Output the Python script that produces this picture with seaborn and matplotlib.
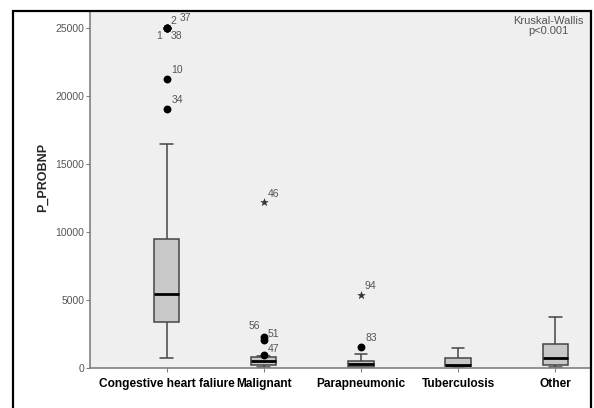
import numpy as np
import pandas as pd
import matplotlib
matplotlib.use("Agg")
import matplotlib.pyplot as plt
import matplotlib.patches as patches
import seaborn as sns

# five-number summaries (whisker low, Q1, median, Q3, whisker high)
categories = ["Congestive heart faliure", "Malignant", "Parapneumonic", "Tuberculosis", "Other"]
chf_summary = [760, 3390, 5430, 9490, 16490]
malignant_summary = [40, 220, 480, 780, 920]
parapneumonic_summary = [20, 50, 330, 520, 1030]
tuberculosis_summary = [20, 150, 220, 710, 1450]
other_summary = [100, 220, 710, 1740, 3740]

# outliers (circles) and extremes (stars)
outlier_group = ["Congestive heart faliure"] * 6 + ["Malignant"] * 3 + ["Parapneumonic"]
outlier_value = [25000, 25000, 25000, 25000, 21300, 19050, 2250, 2060, 940, 1570]
outlier_label = ["1", "2", "37", "38", "10", "34", "56", "51", "47", "83"]
extreme_group = ["Malignant", "Parapneumonic"]
extreme_value = [12190, 5380]
extreme_label = ["46", "94"]

# label offsets in pixels (dx right, dy down)
label_offset = {"1": (-7, 8), "2": (7, -7), "37": (19, -10), "38": (10, 8),
                "10": (11, -9), "34": (11, -9), "56": (-9, -11), "51": (10, -6),
                "47": (10, -6), "83": (10, -9), "46": (10, -8), "94": (9, -9)}

summaries = [chf_summary, malignant_summary, parapneumonic_summary,
             tuberculosis_summary, other_summary]
box_df = pd.DataFrame({
    "group": np.repeat(categories, 5),
    "value": np.concatenate(summaries),
})
out_df = pd.DataFrame({"pos": [categories.index(g) for g in outlier_group],
                       "value": outlier_value, "label": outlier_label})
ext_df = pd.DataFrame({"pos": [categories.index(g) for g in extreme_group],
                       "value": extreme_value, "label": extreme_label})

sns.set_style("white")
plt.rcParams["font.family"] = ["Liberation Sans", "DejaVu Sans"]

W, H = 594, 408
fig = plt.figure(figsize=(W / 100, H / 100), dpi=100)
ax = fig.add_axes([90 / W, 1 - 368 / H, (591 - 90) / W, (368 - 12) / H])
ax.set_facecolor("#efefef")

sns.boxplot(data=box_df, x="group", y="value", order=categories, whis=np.inf,
            width=0.26, color="#c8c8c8", saturation=1, linecolor="#454545",
            linewidth=1.1, fliersize=0, ax=ax,
            medianprops={"color": "black", "linewidth": 2})

sns.scatterplot(data=out_df, x="pos", y="value", marker="o", s=32,
                color="black", edgecolor="black", linewidth=0, ax=ax, zorder=5)
sns.scatterplot(data=ext_df, x="pos", y="value", marker="*", s=32,
                color="#333333", edgecolor="#333333", linewidth=0.3, ax=ax, zorder=5)

for df in (out_df, ext_df):
    for _, r in df.iterrows():
        dx, dy = label_offset[r["label"]]
        ax.annotate(r["label"], (r["pos"], r["value"]),
                    xytext=(dx * 0.72, -dy * 0.72), textcoords="offset points",
                    ha="center", va="center", fontsize=7.5, color="#555555")

ax.set_xlim(-0.787, 4.367)
ax.set_ylim(0, 26215)
ax.set_yticks([0, 5000, 10000, 15000, 20000, 25000])
ax.set_xlabel("")
ax.set_ylabel("P_PROBNP", fontsize=9, fontweight="bold")
ax.yaxis.set_label_coords(-0.082, 0.534)
ax.tick_params(axis="y", length=3, width=0.8, color="#808080",
               labelsize=7.5, labelcolor="#555555", pad=1, left=True)
ax.tick_params(axis="x", length=3, width=0.8, color="#808080",
               labelsize=8.6, labelcolor="black", pad=4, bottom=True)
for lab in ax.get_xticklabels():
    lab.set_fontweight("bold")

for side in ("top", "right"):
    ax.spines[side].set_visible(False)
for side in ("left", "bottom"):
    ax.spines[side].set_color("#808080")
    ax.spines[side].set_linewidth(1.2)

ax.text(0.915, 0.99, "Kruskal-Wallis\np<0.001", transform=ax.transAxes,
        ha="center", va="top", fontsize=8, color="#555555", linespacing=1.05)

# black frame around the figure
fig.patches.append(patches.Rectangle((13 / W, -0.05), (591 - 13) / W, 1.05 - 11 / H,
                                     transform=fig.transFigure, fill=False,
                                     edgecolor="black", linewidth=1.6, zorder=10))

fig.savefig("out.png", dpi=100, facecolor="white")
